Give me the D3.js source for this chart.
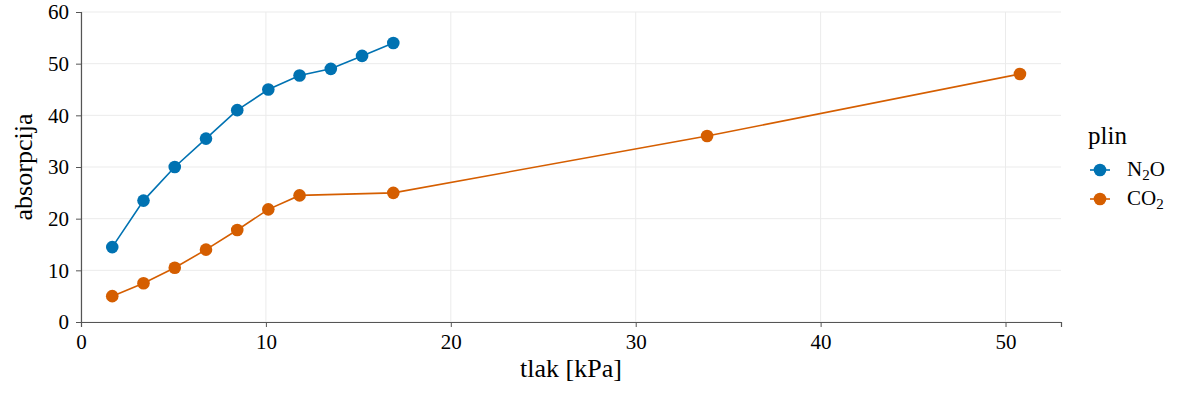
<!DOCTYPE html>
<html>
<head>
<meta charset="utf-8">
<script src="https://cdn.jsdelivr.net/npm/d3@7"></script>
<style>
    body { margin: 0; background: #fff; }
    svg text { font-family: "Liberation Serif", "DejaVu Serif", serif; fill: #000; }
</style>
</head>
<body>
<div id="chart"></div>
<script>
// data
var n2o_x = [1.69, 3.38, 5.07, 6.76, 8.45, 10.13, 11.82, 13.51, 15.2, 16.89];
var n2o_y = [14.5, 23.5, 30, 35.5, 41, 45, 47.7, 49, 51.5, 54];
var co2_x = [1.69, 3.38, 5.07, 6.76, 8.45, 10.13, 11.82, 16.89, 33.86, 50.78];
var co2_y = [5, 7.5, 10.5, 14, 17.8, 21.8, 24.5, 25, 36, 48];
var x_ticks = [0, 10, 20, 30, 40, 50];
var y_ticks = [0, 10, 20, 30, 40, 50, 60];

var width = 1182;
var height = 394;

var margin = {
    top: 12,
    bottom: 72,
    left: 81,
    right: 121
}

var svg = d3.select('#chart')
    .append('svg')
    .attr('width', width)
    .attr('height', height)
    .append('g')
    .attr('transform', 'translate(' + margin.left + ',' + margin.top + ')');

var w = width - margin.left - margin.right;
var h = height - margin.top - margin.bottom;

var x_scale = d3.scaleLinear()
    .domain([0, 53])
    .range([0, w]);

var y_scale = d3.scaleLinear()
    .domain([0, 60])
    .range([h, 0]);

// grid
svg.append('g')
    .selectAll('line')
    .data(x_ticks)
    .enter()
    .append('line')
    .attr('x1', function(d) { return x_scale(d); })
    .attr('x2', function(d) { return x_scale(d); })
    .attr('y1', 0)
    .attr('y2', h)
    .attr('stroke', '#ebebeb')
    .attr('stroke-width', 1);

svg.append('g')
    .selectAll('line')
    .data(y_ticks)
    .enter()
    .append('line')
    .attr('x1', 0)
    .attr('x2', w)
    .attr('y1', function(d) { return y_scale(d); })
    .attr('y2', function(d) { return y_scale(d); })
    .attr('stroke', '#ebebeb')
    .attr('stroke-width', 1);

// axes
var x_axis = d3.axisBottom(x_scale).tickValues(x_ticks).tickSizeOuter(0).tickSize(5).tickPadding(5);
var y_axis = d3.axisLeft(y_scale).tickValues(y_ticks).tickSizeOuter(0).tickSize(5).tickPadding(7);

var gx = svg.append('g')
    .attr('transform', 'translate(0,' + h + ')')
    .call(x_axis);

var gy = svg.append('g')
    .call(y_axis);

[gx, gy].forEach(function(g) {
    g.attr('font-family', null).attr('font-size', null);
    g.select('.domain').attr('stroke', '#555').attr('stroke-width', 1.2);
    g.selectAll('.tick line').attr('stroke', '#555');
    g.selectAll('.tick text')
        .style('font-size', '21px')
        .attr('fill', '#000');
});
gx.selectAll('.tick text').attr('dy', '0.8em');

// series
var series = [
    { name: 'N2O', xs: n2o_x, ys: n2o_y, colour: '#0072b2' },
    { name: 'CO2', xs: co2_x, ys: co2_y, colour: '#d55e00' }
];

var line = d3.line()
    .x(function(d) { return x_scale(d[0]); })
    .y(function(d) { return y_scale(d[1]); });

series.forEach(function(s) {
    var pts = s.xs.map(function(x, i) { return [x, s.ys[i]]; });
    svg.append('path')
        .datum(pts)
        .attr('d', line)
        .attr('fill', 'none')
        .attr('stroke', s.colour)
        .attr('stroke-width', 1.6);
    svg.append('g')
        .selectAll('circle')
        .data(pts)
        .enter()
        .append('circle')
        .attr('cx', function(d) { return x_scale(d[0]); })
        .attr('cy', function(d) { return y_scale(d[1]); })
        .attr('r', 6.3)
        .attr('fill', s.colour);
});

// axis labels
svg.append('text')
    .attr('x', w / 2)
    .attr('y', h + 55)
    .attr('text-anchor', 'middle')
    .style('font-size', '26px')
    .text('tlak [kPa]');

svg.append('text')
    .attr('transform', 'translate(' + (-49) + ',' + (h / 2) + ') rotate(-90)')
    .attr('text-anchor', 'middle')
    .style('font-size', '26px')
    .text('absorpcija');

// legend
var legend = d3.select('svg').append('g')
    .attr('transform', 'translate(1088,0)');

legend.append('text')
    .attr('x', 0)
    .attr('y', 144)
    .style('font-size', '25px')
    .text('plin');

var legend_labels = [['N', '2', 'O'], ['CO', '2', '']];
series.forEach(function(s, i) {
    var yy = 170 + i * 29;
    legend.append('line')
        .attr('x1', 2).attr('x2', 22)
        .attr('y1', yy).attr('y2', yy)
        .attr('stroke', s.colour)
        .attr('stroke-width', 1.6);
    legend.append('circle')
        .attr('cx', 12).attr('cy', yy).attr('r', 6.3)
        .attr('fill', s.colour);
    var t = legend.append('text')
        .attr('x', 39)
        .attr('y', yy + 6)
        .style('font-size', '21px');
    t.append('tspan').text(legend_labels[i][0]);
    t.append('tspan').attr('dy', 4).style('font-size', '15px').text(legend_labels[i][1]);
    t.append('tspan').attr('dy', -4).text(legend_labels[i][2]);
});
</script>
</body>
</html>
